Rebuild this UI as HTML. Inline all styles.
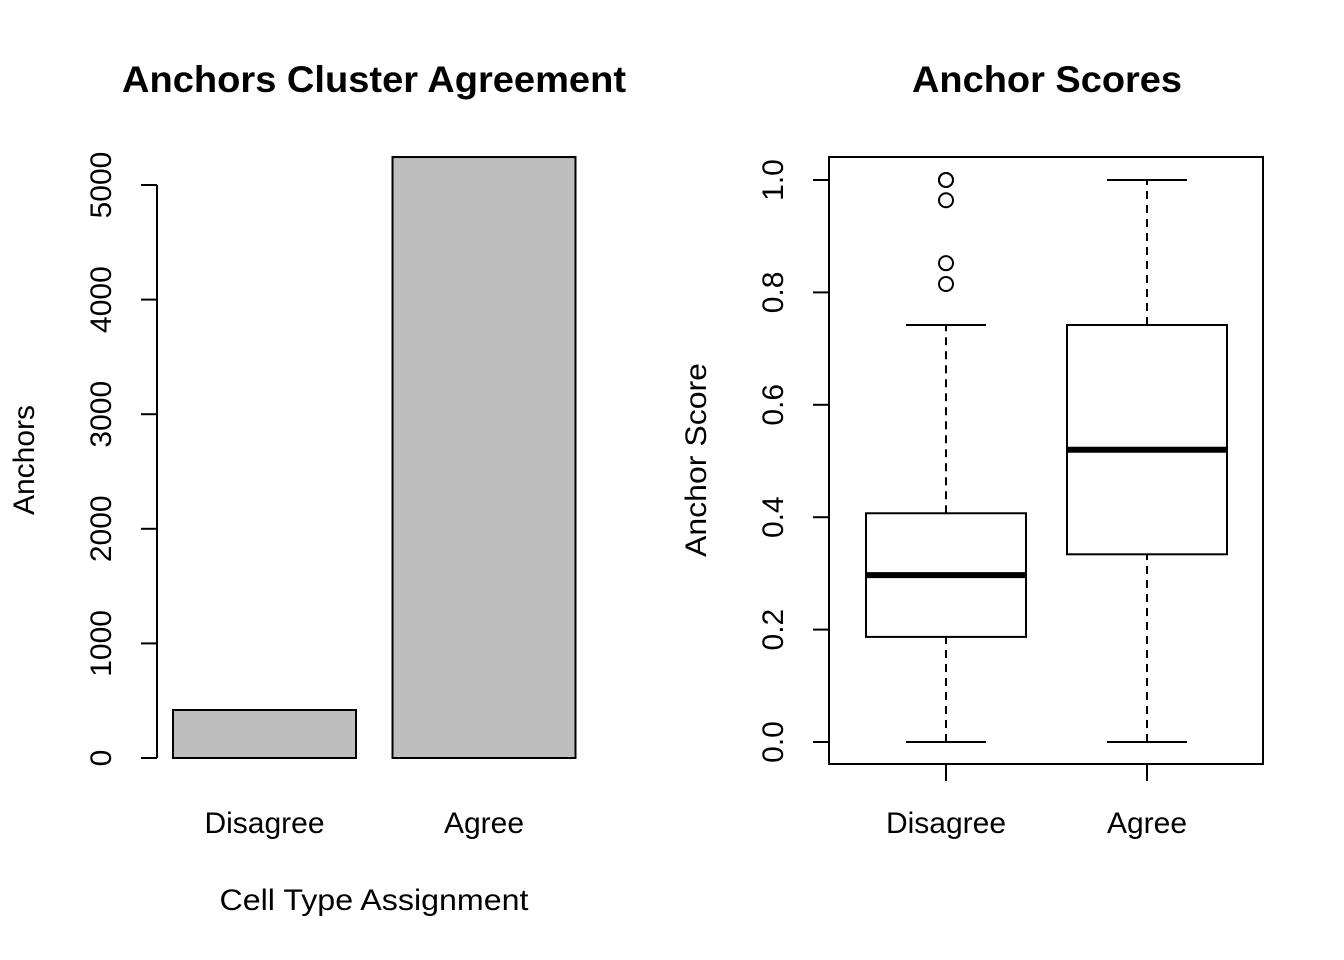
<!DOCTYPE html>
<html><head><meta charset="utf-8"><style>
html,body{margin:0;padding:0;background:#fff;}
svg{display:block;font-family:"Liberation Sans",Arial,sans-serif;}
</style></head><body>
<svg id="c" width="1344" height="960">
<text x="374" y="92" font-size="37" font-weight="bold" text-anchor="middle" textLength="504" lengthAdjust="spacingAndGlyphs">Anchors Cluster Agreement</text>
<text x="1047" y="92" font-size="37" font-weight="bold" text-anchor="middle" textLength="270" lengthAdjust="spacingAndGlyphs">Anchor Scores</text>
<text x="374" y="910" font-size="30" text-anchor="middle" textLength="309" lengthAdjust="spacingAndGlyphs">Cell Type Assignment</text>
<text transform="translate(34,460) rotate(-90)" font-size="30" text-anchor="middle">Anchors</text>
<text transform="translate(706,460) rotate(-90)" font-size="30" text-anchor="middle" textLength="194" lengthAdjust="spacingAndGlyphs">Anchor Score</text>
<rect x="829" y="157" width="434" height="607" fill="none" stroke="#000" stroke-width="2"/>
<g id="L"></g><g id="R"></g>
</svg>
<script>
const barCats=["Disagree","Agree"];
const barVals=[419,5244];
const barTicks=[0,1000,2000,3000,4000,5000];
const boxCats=["Disagree","Agree"];
const boxLow=[0,0];
const boxQ1=[0.187,0.334];
const boxMed=[0.297,0.52];
const boxQ3=[0.407,0.742];
const boxHigh=[0.742,1.0];
const boxOutliers=[[1.0,1.0,0.964,0.852,0.815],[]];
const boxTicks=[0,0.2,0.4,0.6,0.8,1.0];
const NS="http://www.w3.org/2000/svg";
function mk(p,t,a){const e=document.createElementNS(NS,t);for(const k in a)e.setAttribute(k,a[k]);p.appendChild(e);return e;}
const L=document.getElementById('L'),R=document.getElementById('R');
const yL=v=>758-v*0.1146;
let ax=mk(L,'line',{x1:157,x2:157,y1:yL(0),y2:yL(5000),stroke:'#000','stroke-width':2});

barTicks.forEach(t=>{
 const l=mk(L,'line',{x1:141,x2:157,y1:yL(t),y2:yL(t),stroke:'#000','stroke-width':2});
 
 const tx=mk(L,'text',{transform:`translate(111,${yL(t)}) rotate(-90)`,'font-size':30,'text-anchor':'middle'});
 tx.textContent=t;
 
});
barCats.forEach((c,i)=>{
 const x0=173+i*219.5;
 const r=mk(L,'rect',{x:x0,y:yL(barVals[i]),width:183,height:yL(0)-yL(barVals[i]),fill:'#bebebe',stroke:'#000','stroke-width':2});
 
 const tx=mk(L,'text',{x:x0+91.5,y:833,'font-size':30,'text-anchor':'middle'});tx.textContent=c;
 
});
const yR=v=>742-v*562;
ax=mk(R,'line',{x1:829,x2:829,y1:yR(0),y2:yR(1),stroke:'#000','stroke-width':2});

boxTicks.forEach(t=>{
 const l=mk(R,'line',{x1:813,x2:829,y1:yR(t),y2:yR(t),stroke:'#000','stroke-width':2});
 
 const tx=mk(R,'text',{transform:`translate(783,${yR(t)}) rotate(-90)`,'font-size':30,'text-anchor':'middle'});
 tx.textContent=t.toFixed(1);
 
});
boxCats.forEach((c,i)=>{
 const cx=946+i*201,hw=80,cw=40;
 const g=mk(R,'g',{});
 
 mk(g,'line',{x1:cx,x2:cx,y1:yR(boxLow[i]),y2:yR(boxQ1[i]),stroke:'#000','stroke-width':2,'stroke-dasharray':'8,6'});
 mk(g,'line',{x1:cx,x2:cx,y1:yR(boxQ3[i]),y2:yR(boxHigh[i]),stroke:'#000','stroke-width':2,'stroke-dasharray':'8,6'});
 mk(g,'line',{x1:cx-cw,x2:cx+cw,y1:yR(boxLow[i]),y2:yR(boxLow[i]),stroke:'#000','stroke-width':2});
 mk(g,'line',{x1:cx-cw,x2:cx+cw,y1:yR(boxHigh[i]),y2:yR(boxHigh[i]),stroke:'#000','stroke-width':2});
 mk(g,'rect',{x:cx-hw,y:yR(boxQ3[i]),width:2*hw,height:yR(boxQ1[i])-yR(boxQ3[i]),fill:'#fff',stroke:'#000','stroke-width':2});
 mk(g,'line',{x1:cx-hw,x2:cx+hw,y1:yR(boxMed[i]),y2:yR(boxMed[i]),stroke:'#000','stroke-width':6});
 boxOutliers[i].forEach(o=>{
  const p=mk(g,'circle',{cx:cx,cy:yR(o),r:7,fill:'none',stroke:'#000','stroke-width':2});
  
 });
 const tk=mk(R,'line',{x1:cx,x2:cx,y1:764,y2:781,stroke:'#000','stroke-width':2});
 
 const tx=mk(R,'text',{x:cx,y:833,'font-size':30,'text-anchor':'middle'});tx.textContent=c;
 
});
</script>
</body></html>
